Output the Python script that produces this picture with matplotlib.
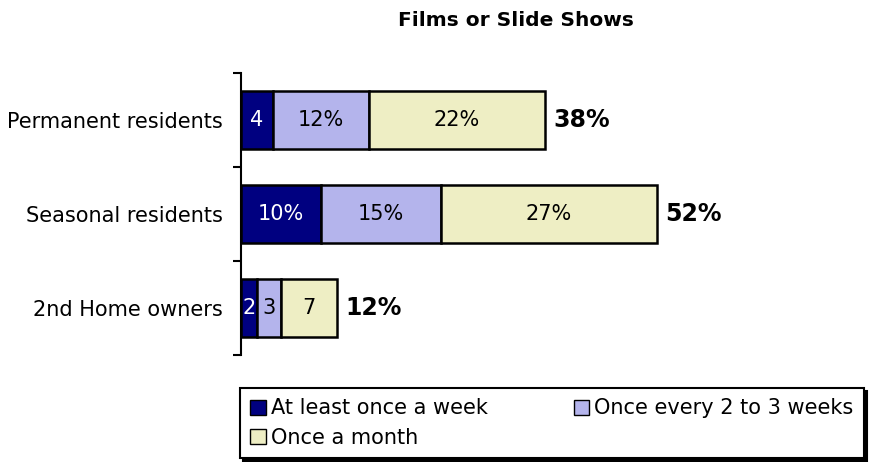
import matplotlib.pyplot as plt
from matplotlib.patches import Patch

categories = ['Permanent residents', 'Seasonal residents', '2nd Home owners']
series_names = ['At least once a week', 'Once every 2 to 3 weeks', 'Once a month']
week = [4, 10, 2]
every_2_3 = [12, 15, 3]
month = [22, 27, 7]
totals = [38, 52, 12]
week_labels = ['4', '10%', '2']
every_labels = ['12%', '15%', '3']
month_labels = ['22%', '27%', '7']

colors = ['#000080', '#B4B4EC', '#EEEEC4']
text_colors = ['white', 'black', 'black']

fig = plt.figure(figsize=(8.76, 4.62), dpi=100)
ax = fig.add_axes([241/876, 107/462, 560/876, 282/462])

y = list(range(len(categories)))
left = [0] * len(categories)
series = [week, every_2_3, month]
labels = [week_labels, every_labels, month_labels]
for vals, labs, col, tcol in zip(series, labels, colors, text_colors):
    ax.barh(y, vals, left=left, height=0.62, color=col, edgecolor='black', linewidth=1.8)
    for i in range(len(y)):
        ax.text(left[i] + vals[i] / 2, y[i], labs[i], ha='center', va='center',
                color=tcol, fontsize=15)
    left = [l + v for l, v in zip(left, vals)]

for i in range(len(y)):
    ax.text(totals[i] + 1, y[i], '%d%%' % totals[i], ha='left', va='center',
            fontsize=17, fontweight='bold')

ax.set_xlim(0, 70)
ax.set_ylim(2.5, -0.5)
ax.set_yticks(y)
ax.set_yticklabels(categories, fontsize=15)
ax.set_yticks([-0.5, 0.5, 1.5, 2.5], minor=True)
ax.tick_params(axis='y', which='major', length=0, pad=13)
ax.tick_params(axis='y', which='minor', length=6, width=1.5, direction='out')
ax.set_xticks([])
for s in ['top', 'right', 'bottom']:
    ax.spines[s].set_visible(False)
ax.spines['left'].set_linewidth(1.5)

fig.text(516/876, 1 - 20/462, 'Films or Slide Shows', ha='center', va='center',
         fontsize=14.5, fontweight='bold')

# legend order is filled column by column
order = [0, 2, 1]
handles = [Patch(facecolor=colors[k], edgecolor='black', linewidth=1) for k in order]
names = [series_names[k] for k in order]
leg = fig.legend(handles, names, loc='upper left', ncol=2, mode='expand',
                 bbox_to_anchor=(240/876, 1 - 388/462, 624/876, 0.0), fontsize=15,
                 frameon=True, fancybox=False, shadow={'color': 'black', 'alpha': 1},
                 handlelength=0.75, handleheight=0.75, handletextpad=0.25,
                 borderaxespad=0, labelspacing=0.45,
                 edgecolor='black', borderpad=0.5)
leg.get_frame().set_linewidth(1.5)

fig.savefig('out.png', dpi=100)
